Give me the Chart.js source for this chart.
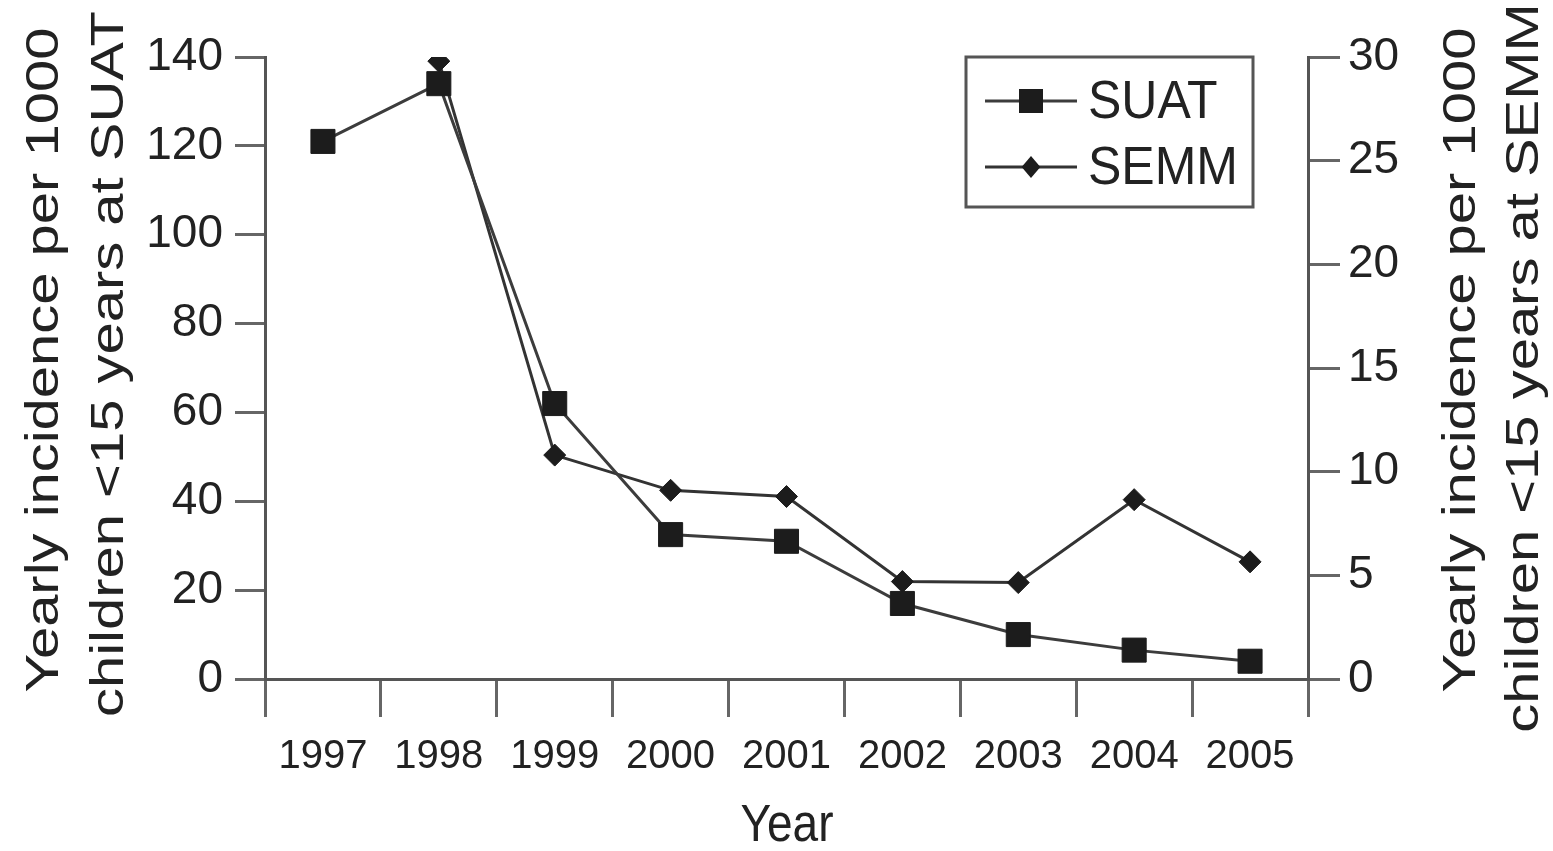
<!DOCTYPE html>
<html>
<head>
<meta charset="utf-8">
<script src="https://cdn.jsdelivr.net/npm/chart.js@4/dist/chart.umd.min.js"></script>
<style>
  html, body { margin: 0; padding: 0; background: #fff; }
  #wrap { width: 1553px; height: 851px; }
</style>
</head>
<body>
<div id="wrap"><canvas id="incidenceChart" width="1553" height="851"></canvas></div>
<script>
// data
const years = ["1997", "1998", "1999", "2000", "2001", "2002", "2003", "2004", "2005"];
const suat = [121, 134, 62, 32.5, 31, 17, 10, 6.5, 4];          // left axis
const semm = [null, 29.8, 10.8, 9.1, 8.8, 4.7, 4.65, 8.65, 5.65]; // right axis
const leftTicks = [0, 20, 40, 60, 80, 100, 120, 140];
const rightTicks = [0, 5, 10, 15, 20, 25, 30];
const leftTitle = ["Yearly incidence per 1000", "children <15 years at SUAT"];
const rightTitle = ["Yearly incidence per 1000", "children <15 years at SEMM"];
const xTitle = "Year";

const FONT = "'Liberation Sans', Arial, sans-serif";
const AXIS = "#666";
const TEXT = "#222";

// titles and the boxed legend are drawn by hand so they read like the original
const extras = {
    id: "extras",
    afterDraw(chart) {
        const ctx = chart.ctx;
        ctx.save();
        ctx.fillStyle = TEXT;
        ctx.textAlign = "center";
        ctx.textBaseline = "middle";
        ctx.font = "46px " + FONT;

        ctx.save();
        ctx.translate(787, 827);
        ctx.scale(1, 1.12);
        ctx.fillText(xTitle, 0, 0);
        ctx.restore();

        // side titles, both reading bottom to top (text is stretched along its length in the scan)
        [[leftTitle, [45, 110], [360, 364]], [rightTitle, [1462, 1525], [360, 368]]].forEach(([lines, xs, ys]) => {
            lines.forEach((txt, i) => {
                ctx.save();
                ctx.translate(xs[i], ys[i]);
                ctx.rotate(-Math.PI / 2);
                ctx.scale(1.26, 1);
                ctx.fillText(txt, 0, 0);
                ctx.restore();
            });
        });

        // legend box
        ctx.strokeStyle = "#555";
        ctx.lineWidth = 3;
        ctx.strokeRect(966, 57, 287, 150);
        ctx.font = "50px " + FONT;
        ctx.textAlign = "left";
        chart.data.datasets.forEach((ds, i) => {
            const y = 101 + i * 66;
            ctx.strokeStyle = ds.borderColor;
            ctx.lineWidth = ds.borderWidth;
            ctx.beginPath();
            ctx.moveTo(985, y);
            ctx.lineTo(1077, y);
            ctx.stroke();
            ctx.fillStyle = ds.pointBackgroundColor;
            const r = ds.pointRadius;
            ctx.beginPath();
            if (ds.pointStyle === "rect") {
                const s = r * Math.SQRT1_2;
                ctx.rect(1031 - s, y - s, 2 * s, 2 * s);
            } else {
                ctx.moveTo(1031, y - r);
                ctx.lineTo(1031 + r * 0.85, y);
                ctx.lineTo(1031, y + r);
                ctx.lineTo(1031 - r * 0.85, y);
                ctx.closePath();
            }
            ctx.fill();
            ctx.fillStyle = TEXT;
            ctx.save();
            ctx.translate(1088, y + 2);
            ctx.scale(1, 1.08);
            ctx.fillText(ds.label, 0, 0);
            ctx.restore();
        });
        ctx.restore();
    }
};

const ctx = document.getElementById("incidenceChart").getContext("2d");

new Chart(ctx, {
    type: "line",
    data: {
        labels: years,
        datasets: [
            {
                label: "SUAT",
                data: suat,
                yAxisID: "y",
                borderColor: "#3c3c3c",
                borderWidth: 3,
                pointStyle: "rect",
                pointRadius: 17,
                pointBackgroundColor: "#1c1c1c",
                pointBorderColor: "#1c1c1c",
                pointBorderWidth: 1,
                tension: 0
            },
            {
                label: "SEMM",
                data: semm,
                yAxisID: "y1",
                borderColor: "#333",
                borderWidth: 3,
                pointStyle: "rectRot",
                pointRadius: 11,
                pointBackgroundColor: "#1c1c1c",
                pointBorderColor: "#1c1c1c",
                pointBorderWidth: 1,
                tension: 0
            }
        ]
    },
    options: {
        responsive: false,
        animation: false,
        layout: { padding: { top: 57, left: 0, right: 0, bottom: 0 } },
        plugins: {
            legend: { display: false },
            tooltip: { enabled: false }
        },
        scales: {
            x: {
                offset: true,
                grid: { offset: true, drawOnChartArea: false, tickLength: 38, color: AXIS, lineWidth: 3 },
                border: { color: "#555", width: 3 },
                ticks: { color: TEXT, font: { family: FONT, size: 40 }, padding: 16, maxRotation: 0 },
                afterFit(scale) { scale.height = 172; }
            },
            y: {
                position: "left",
                min: 0,
                max: 140,
                afterBuildTicks(scale) { scale.ticks = leftTicks.map(v => ({ value: v })); },
                grid: { drawOnChartArea: false, tickLength: 30, color: AXIS, lineWidth: 3 },
                border: { color: "#555", width: 3 },
                ticks: { color: TEXT, font: { family: FONT, size: 46 }, padding: 12 },
                afterFit(scale) { scale.width = 265; }
            },
            y1: {
                position: "right",
                min: 0,
                max: 30,
                afterBuildTicks(scale) { scale.ticks = rightTicks.map(v => ({ value: v })); },
                grid: { drawOnChartArea: false, tickLength: 32, color: AXIS, lineWidth: 3 },
                border: { color: "#555", width: 3 },
                ticks: { color: TEXT, font: { family: FONT, size: 46 }, padding: 8 },
                afterFit(scale) { scale.width = 245; }
            }
        }
    },
    plugins: [extras]
});
</script>
</body>
</html>
